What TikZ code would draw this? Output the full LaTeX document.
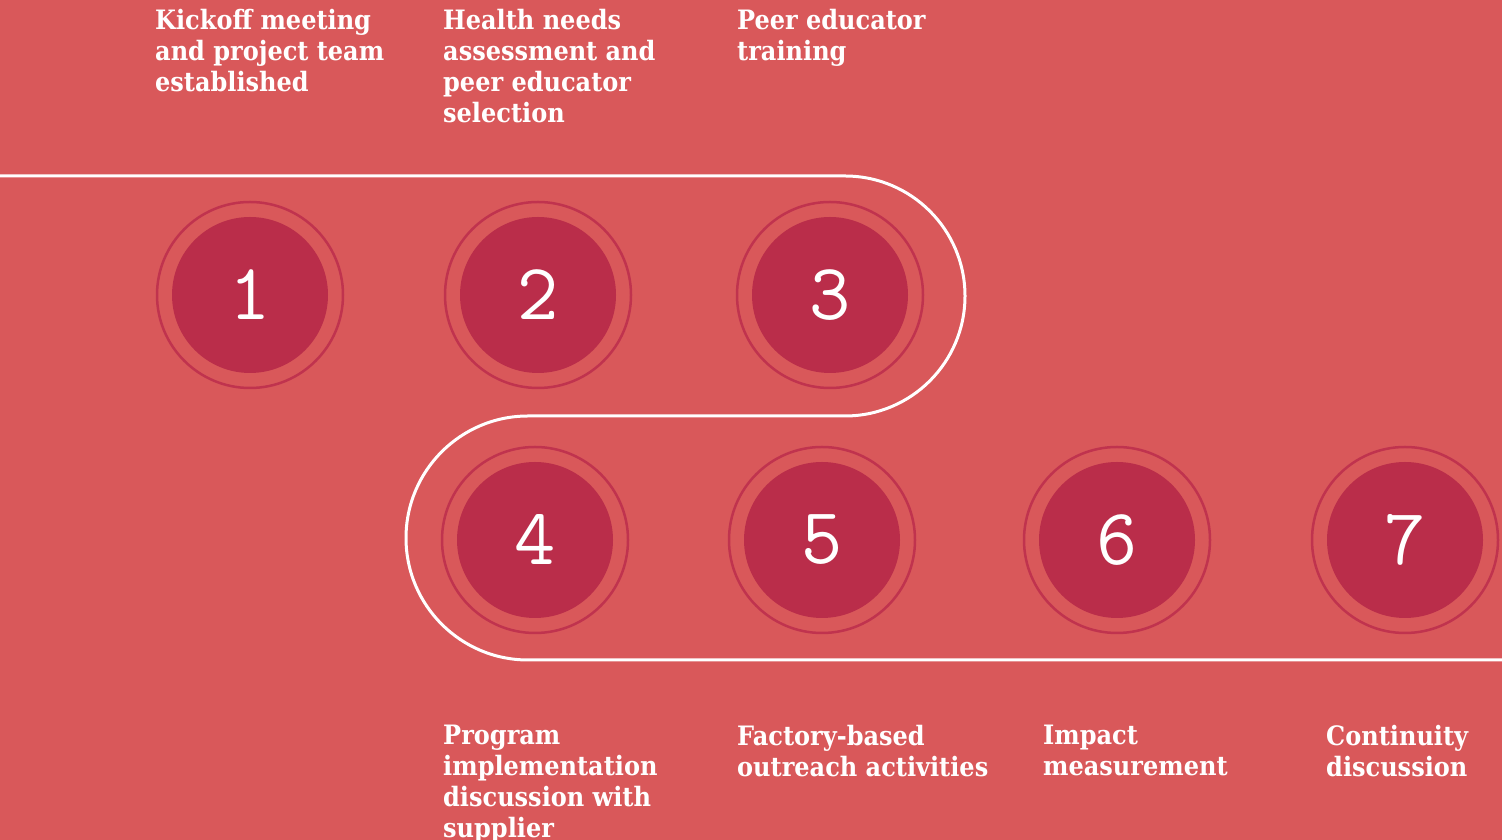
\documentclass[tikz,border=0pt]{standalone}
\usepackage{fontspec}
\setmainfont{DejaVu Serif Condensed}
\newfontfamily\digitfont{Latin Modern Mono}
\usetikzlibrary{positioning}
\definecolor{Coral}{HTML}{D9585A}
\definecolor{Berry}{HTML}{BA2D4A}
\definecolor{BerryRing}{HTML}{C0334E}
\tikzset{
  stepdisk/.style={circle, fill=Berry, minimum size=156pt, inner sep=0pt,
                   text=white, font=\digitfont\fontsize{80}{80}\selectfont},
  stepring/.style={draw=BerryRing, line width=2.5pt},
  steplabel/.style={anchor=north west, inner sep=0pt, align=left, text=white,
                   font=\bfseries\fontsize{26.7}{31}\selectfont},
}

\begin{document}
\begin{tikzpicture}[x=1pt, y=1pt,
          track/.style={draw=white, line width=3pt, line cap=round}
        ]
          \fill[Coral] (0,0) rectangle (1502,840);
          \useasboundingbox (0,0) rectangle (1502,840);
          % the winding track
          \coordinate (start) at (0,664);
          \coordinate (finish) at (1502,180);
          \draw[track] (start) -- (845,664) arc[start angle=90, end angle=-90, radius=120]
            -- (528,424) arc[start angle=90, end angle=270, radius=122] -- (finish);
          % steps
          \node[stepdisk] (c1) at (250,545) {1};
          \node[stepdisk] (c2) at (538,545) {2};
          \node[stepdisk] (c3) at (830,545) {3};
          \node[stepdisk] (c4) at (535,300) {4};
          \node[stepdisk] (c5) at (822,300) {5};
          \node[stepdisk] (c6) at (1117,300) {6};
          \node[stepdisk] (c7) at (1405,300) {7};
          \foreach \c in {c1,c2,c3,c4,c5,c6,c7}
            \draw[stepring] (\c.center) circle (93);
          % labels
          \node[steplabel] (t1) at (155,831) {Kickoff meeting\\and project team\\established};
          \node[steplabel] (t2) at (443,831) {Health needs\\assessment and\\peer educator\\selection};
          \node[steplabel] (t3) at (737,831) {Peer educator\\training};
          \node[steplabel] (t4) at (443,115) {Program\\implementation\\discussion with\\supplier};
          \node[steplabel] (t5) at (737,115) {Factory-based\\outreach activities};
          \node[steplabel] (t6) at (1043,115) {Impact\\measurement};
          \node[steplabel] (t7) at (1326,115) {Continuity\\discussion};
        \end{tikzpicture}
\end{document}
